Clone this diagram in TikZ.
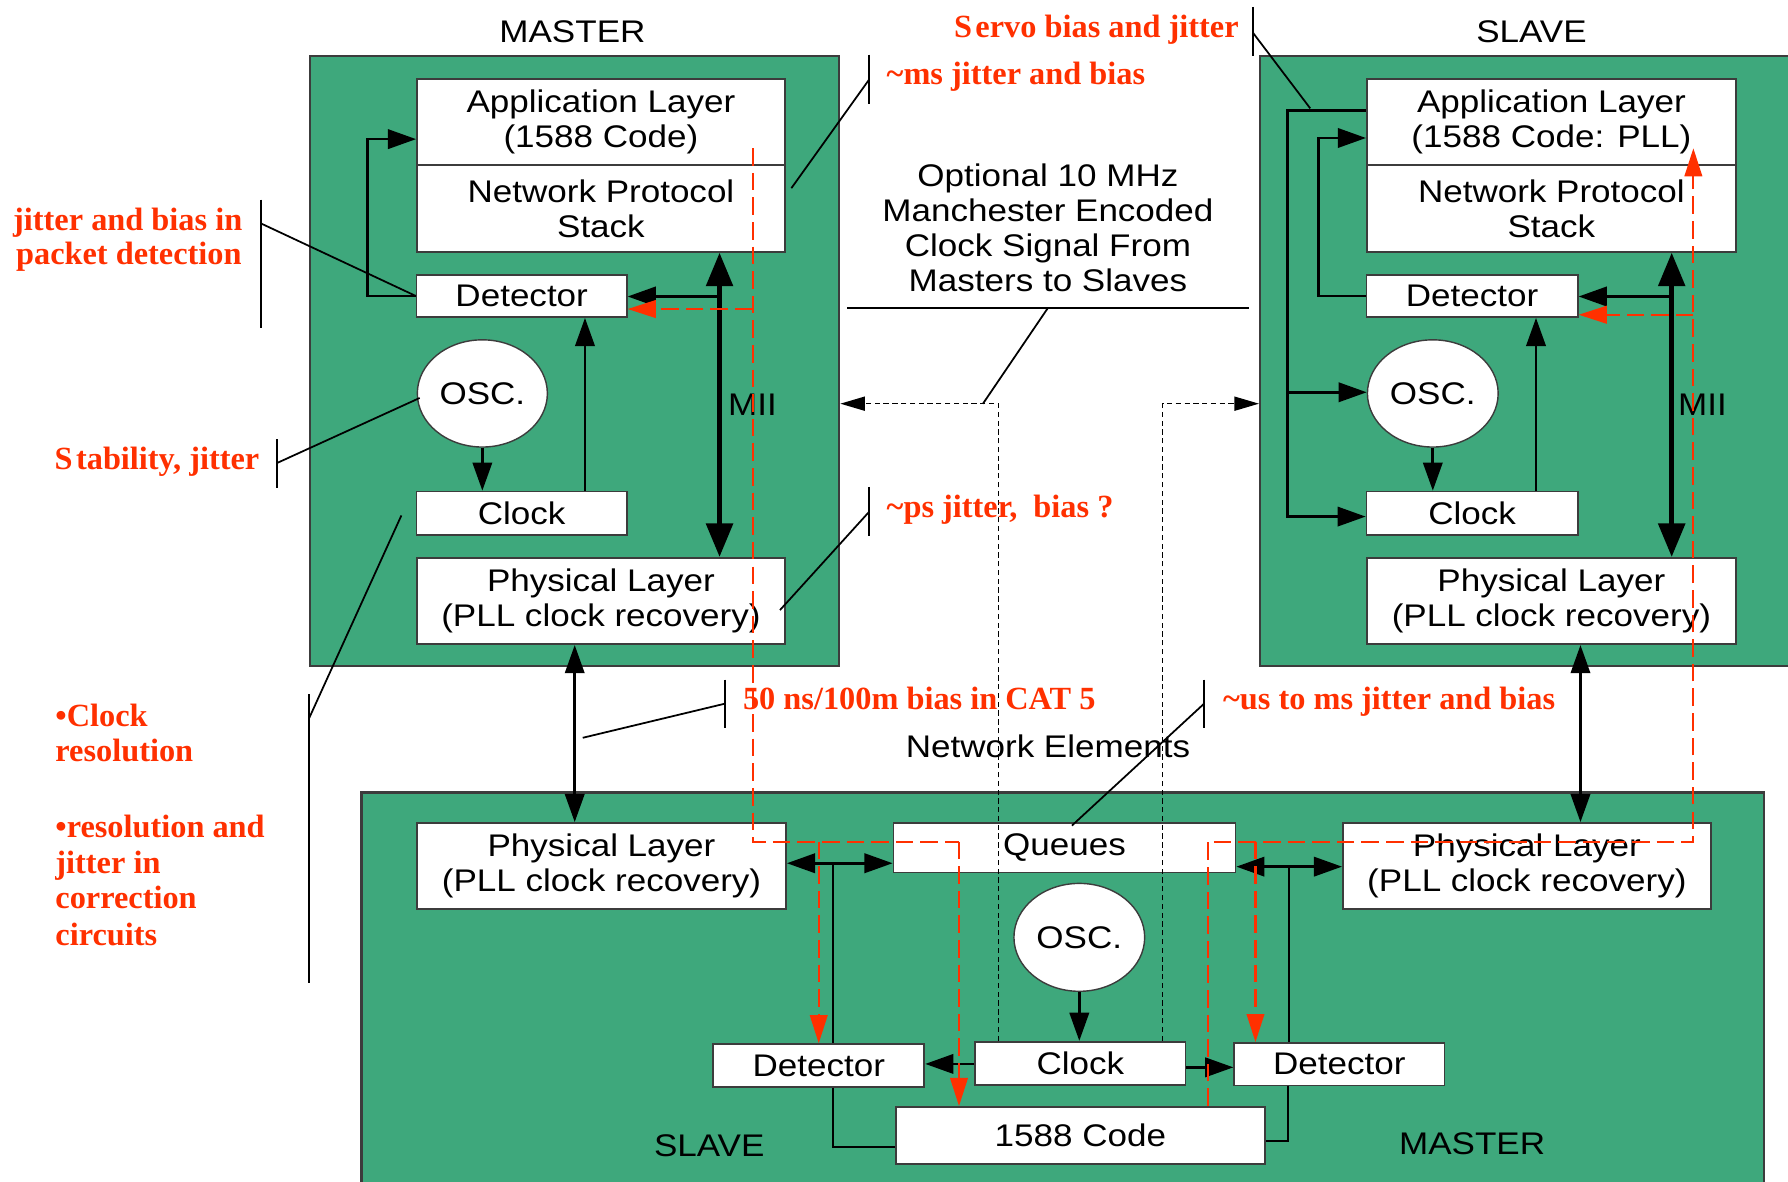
\documentclass[tikz,border=0pt]{standalone}
\usepackage{fontspec}
\setmainfont{Liberation Serif}
\setsansfont{Liberation Sans}[FakeStretch=1.12]
\usetikzlibrary{arrows.meta,fit,shapes.geometric}
\definecolor{boardgreen}{RGB}{62,168,124}
\definecolor{notered}{RGB}{255,48,0}
\definecolor{edgegray}{RGB}{60,60,60}
\begin{document}
\begin{tikzpicture}[x=0.11403mm,y=-0.11403mm,
  board/.style={draw=edgegray,line width=0.6pt,fill=boardgreen,inner sep=0pt},
  blk/.style 2 args={draw=edgegray,line width=0.5pt,fill=white,inner sep=0pt,align=center,
    minimum width=#1,minimum height=#2,font=\sffamily\fontsize{8.9}{10}\selectfont},
  osc/.style={ellipse,draw=edgegray,line width=0.4pt,fill=white,inner sep=0pt,
    minimum width=37pt,minimum height=30.5pt,font=\sffamily\fontsize{8.9}{10}\selectfont},
  plain/.style={inner sep=0pt,align=center,font=\sffamily\fontsize{8.9}{10}\selectfont},
  note/.style={inner sep=0pt,text=notered,font=\bfseries\fontsize{9.2}{10.2}\selectfont},
  link/.style={line width=0.75pt},
  flow/.style={link,-{Triangle[length=8pt,width=5.5pt]}},
  flowtwo/.style={link,{Triangle[length=8pt,width=5.5pt]}-{Triangle[length=8pt,width=5.5pt]}},
  mii/.style={line width=1.3pt,{Triangle[length=9.5pt,width=7.5pt]}-{Triangle[length=9.5pt,width=7.5pt]}},
  tpath/.style={draw=notered,line width=0.6pt,dash pattern=on 5pt off 2pt},
  tpathto/.style={tpath,-{Triangle[length=8pt,width=5pt]}},
  refclk/.style={line width=0.45pt,dash pattern=on 1.5pt off 1pt},
  refclkto/.style={refclk,-{Triangle[length=7pt,width=4pt]}},
  lead/.style={line width=0.5pt},
  notebar/.style={line width=0.6pt}]
\useasboundingbox (0,0) rectangle (1568,1036);

% ---------- boards ----------
\node[board,fit={(272,49) (736,584)}] (mgrn) {};
\node[board,fit={(1105,49) (1575,584)}] (sgrn) {};
\node[board,fit={(317,695) (1547,1045)}] (bgrn) {};

% ---------- master node ----------
\node[blk={104.7pt}{24.6pt}] (mapp) at (527,107) {Application Layer\\(1588 Code)};
\node[blk={104.7pt}{24.6pt}] (mnps) at (527,183) {Network Protocol\\Stack};
\node[blk={59.8pt}{12pt}] (mdet) at (457.5,259.5) {Detector};
\node[osc] (mosc) at (423,345) {OSC.};
\node[blk={59.8pt}{12.3pt}] (mclk) at (457.5,450) {Clock};
\node[blk={104.7pt}{24.6pt}] (mphy) at (527,527) {Physical Layer\\(PLL clock recovery)};

% ---------- slave node ----------
\node[blk={105pt}{24.6pt}] (sapp) at (1360.5,107) {Application Layer\\(1588 Code: PLL)};
\node[blk={105pt}{24.6pt}] (snps) at (1360.5,183) {Network Protocol\\Stack};
\node[blk={60.1pt}{12pt}] (sdet) at (1291,259.5) {Detector};
\node[osc,minimum width=37.2pt] (sosc) at (1256.5,345) {OSC.};
\node[blk={60.1pt}{12.3pt}] (sclk) at (1291,450) {Clock};
\node[blk={105pt}{24.6pt}] (sphy) at (1360.5,527) {Physical Layer\\(PLL clock recovery)};

% ---------- network element (boundary clock) ----------
\node[blk={105pt}{24.4pt}] (bphyL) at (527.5,759.3) {Physical Layer\\(PLL clock recovery)};
\node[blk={97.3pt}{14.1pt}] (bque) at (933.5,743.3) {Queues};
\node[blk={104.7pt}{24.4pt}] (bphyR) at (1339,759.3) {Physical Layer\\(PLL clock recovery)};
\node[osc,minimum width=37.2pt,minimum height=30.7pt] (bosc) at (946.5,822) {OSC.};
\node[blk={59.8pt}{12.3pt}] (bclk) at (947.5,932.5) {Clock};
\node[blk={60.1pt}{12.1pt}] (bdetL) at (718,934.3) {Detector};
\node[blk={59.8pt}{12.1pt}] (bdetR) at (1174.5,933.3) {Detector};
\node[blk={105pt}{16.3pt}] (bcode) at (947.5,995.8) {1588 Code};

% ---------- plain labels ----------
\node[plain,anchor=base] (tmaster) at (502,37) {MASTER};
\node[plain,anchor=base] (tslave) at (1343,37) {SLAVE};
\node[plain,anchor=base west] (mmii) at (638,364) {MII};
\node[plain,anchor=base west] (smii) at (1471,364) {MII};
\node[plain] (topt) at (919,200) {Optional 10 MHz\\Manchester Encoded\\Clock Signal From\\Masters to Slaves};
\node[plain,anchor=base] (tnet) at (919,664) {Network Elements};
\node[plain,anchor=base] (bslave) at (622,1014) {SLAVE};
\node[plain,anchor=base] (bmaster) at (1291,1012) {MASTER};

% ---------- master connectors ----------
\coordinate (mbus) at (631,260);
\draw[mii] (mnps.south -| mbus) -- (mphy.north -| mbus);
\draw[flow] (mbus) -- (mbus -| mdet.east);
\coordinate (mup) at (513,450);
\draw[flow] (mclk.north -| mup) -- (mdet.south -| mup);
\draw[flow] (mosc.south) -- (mclk.north -| mosc.south);
\coordinate (mloop) at (322,122);
\draw[flow] (mdet.west) -| (mloop) -- (mloop -| mapp.west);

% ---------- slave connectors ----------
\coordinate (sbus) at (1466,260);
\draw[mii] (snps.south -| sbus) -- (sphy.north -| sbus);
\draw[flow] (sbus) -- (sbus -| sdet.east);
\coordinate (sup) at (1347,450);
\draw[flow] (sclk.north -| sup) -- (sdet.south -| sup);
\draw[flow] (sosc.south) -- (sclk.north -| sosc.south);
\coordinate (sloop) at (1156,121);
\draw[flow] (sdet.west) -| (sloop) -- (sloop -| sapp.west);
\coordinate (servotop) at (1129,97);
\coordinate (servoosc) at (1129,344);
\coordinate (servobot) at (1129,453);
\draw[flow] (servotop -| sapp.west) -- (servotop) -- (servobot) -- (servobot -| sclk.west);
\draw[flow] (servoosc) -- (servoosc -| sosc.west);

% ---------- links to the network element ----------
\coordinate (mlink) at (504,640);
\draw[flowtwo] (mphy.south -| mlink) -- (bphyL.north -| mlink);
\coordinate (slink) at (1386,640);
\draw[flowtwo] (sphy.south -| slink) -- (bphyR.north -| slink);

% ---------- network element connectors ----------
\coordinate (bjl) at (730.5,757);
\draw[flowtwo] (bjl -| bphyL.east) -- (bjl -| bque.west);
\draw[link] (bjl) -- (bjl |- bdetL.north);
\coordinate (bjr) at (1130.5,760);
\draw[flowtwo] (bjr -| bque.east) -- (bjr -| bphyR.west);
\draw[link] (bjr) -- (bjr |- bdetR.north);
\draw[flow] (bosc.south) -- (bclk.north -| bosc.south);
\coordinate (bckl) at (830,933);
\draw[flow] (bckl -| bclk.west) -- (bckl -| bdetL.east);
\coordinate (bckr) at (1060,936);
\draw[flow] (bckr -| bclk.east) -- (bckr -| bdetR.west);
\coordinate (bretl) at (730.5,1006);
\draw[link] (bdetL.south -| bretl) -- (bretl) -- (bretl -| bcode.west);
\coordinate (bretr) at (1129.5,1000.6);
\draw[link] (bretr -| bcode.east) -- (bretr) -- (bretr |- bdetR.south);

% ---------- optional 10 MHz reference clock ----------
\coordinate (rcl) at (875.6,354);
\draw[refclkto] (bclk.north -| rcl) -- (rcl) -- (rcl -| mgrn.east);
\coordinate (rcr) at (1019.6,354);
\draw[refclkto] (bclk.north -| rcr) -- (rcr) -- (rcr -| sgrn.west);
\coordinate (optl) at (743,270);
\coordinate (optr) at (1095,270);
\coordinate (optk) at (919,270);
\coordinate (optend) at (862,354);
\draw[lead] (optl) -- (optr);
\draw[lead] (optk) -- (optend);

% ---------- timestamp paths ----------
\coordinate (mtaptop) at (660,130);
\coordinate (mtapbot) at (660,738);
\coordinate (bsplitl) at (718,738);
\coordinate (bturnl) at (841,738);
\draw[tpath] (mtaptop) -- (mtapbot) -- (bturnl);
\draw[tpathto] (bsplitl) -- (bsplitl |- bdetL.north);
\draw[tpathto] (bturnl) -- (bturnl |- bcode.north);
\coordinate (mtapdet) at (660,271);
\draw[tpathto] (mtapdet) -- (mtapdet -| mdet.east);

\coordinate (rtapl) at (1059,738);
\coordinate (rtapr) at (1485,738);
\coordinate (rtaptop) at (1485,130);
\coordinate (rsplit) at (1101,738);
\draw[tpathto] (rtapl |- bcode.north) -- (rtapl) -- (rtapr) -- (rtaptop);
\draw[tpathto] (rsplit) -- (rsplit |- bdetR.north);
\coordinate (stapdet) at (1485,276);
\draw[tpathto] (stapdet) -- (stapdet -| sdet.east);

% ---------- error annotations ----------
\node[note,anchor=base west] (nservo) at (836,33) {S\kern1pt ervo bias and jitter};
\draw[notebar] (1099,6) -- (1099,49);
\coordinate (aservo) at (1099,29);
\coordinate (eservo) at (1149,95);
\draw[lead] (aservo) -- (eservo);

\node[note,anchor=base west] (nms) at (777,74.5) {\textasciitilde ms jitter and bias};
\draw[notebar] (762,48) -- (762,91);
\coordinate (ams) at (762,70);
\coordinate (ems) at (694,165);
\draw[lead] (ams) -- (ems);

\node[note,anchor=base] (npkta) at (112,202) {jitter and bias in};
\node[note,anchor=base] (npktb) at (113,232) {packet detection};
\draw[notebar] (229,175) -- (229,288);
\coordinate (apkt) at (229,196);
\draw[lead] (apkt) -- (mdet.west);

\node[note,anchor=base east] (nstab) at (228,412) {S\kern1pt tability, jitter};
\draw[notebar] (243,385) -- (243,428);
\coordinate (astab) at (243,406);
\coordinate (estab) at (368,349);
\draw[lead] (astab) -- (estab);

\node[note,anchor=base west] (nclka) at (48,637) {•Clock};
\node[note,anchor=base west] (nclkb) at (48,668) {resolution};
\node[note,anchor=base west] (nresa) at (48,734) {•resolution and};
\node[note,anchor=base west] (nresb) at (48,766) {jitter in};
\node[note,anchor=base west] (nresc) at (48,797) {correction};
\node[note,anchor=base west] (nresd) at (48,829) {circuits};
\draw[notebar] (271,609) -- (271,862);
\coordinate (aclk) at (271,630);
\coordinate (eclk) at (352,452);
\draw[lead] (aclk) -- (eclk);

\node[note,anchor=base west] (nps) at (777,454) {\textasciitilde ps jitter,\ \ bias ?};
\draw[notebar] (762,427) -- (762,470);
\coordinate (aps) at (762,449);
\coordinate (eps) at (684,535);
\draw[lead] (aps) -- (eps);

\node[note,anchor=base west] (ncat) at (651,622) {50 ns/100m bias in CAT 5};
\draw[notebar] (636,596) -- (636,638);
\coordinate (acat) at (636,617);
\coordinate (ecat) at (511,647);
\draw[lead] (acat) -- (ecat);

\node[note,anchor=base west] (nus) at (1072,622) {\textasciitilde us to ms jitter and bias};
\draw[notebar] (1056,596) -- (1056,638);
\coordinate (aus) at (1056,617);
\coordinate (eus) at (940,724);
\draw[lead] (aus) -- (eus);
\end{tikzpicture}
\end{document}
